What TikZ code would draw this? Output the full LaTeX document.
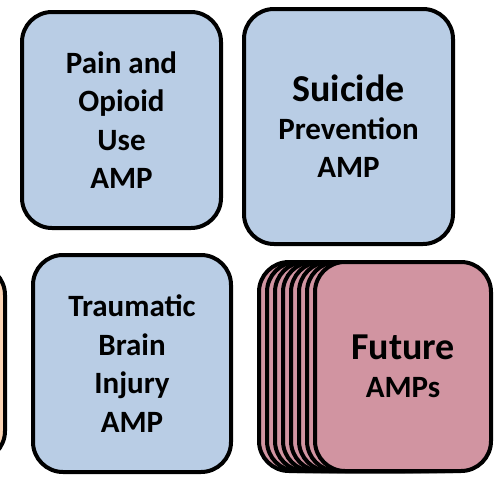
\documentclass[tikz,border=0pt]{standalone}
\usepackage{fontspec}
\setmainfont{Carlito}
\definecolor{ampblue}{HTML}{B9CDE5}
\definecolor{amppink}{HTML}{D194A1}
\definecolor{amporange}{HTML}{FCD5B5}
\begin{document}
\begin{tikzpicture}[x=1pt, y=-1pt, line width=4pt,
    card/.style={draw=black, rounded corners=30pt, inner sep=0pt, align=center,
                 font=\bfseries\fontsize{31}{38.5}\selectfont},
    amp/.style={card, fill=ampblue},
    future/.style={card, fill=amppink, minimum width=176pt, minimum height=209pt}]
                    \clip (0,0) rectangle (496,477);
                    % Current AMPs
                    \node[amp, minimum width=199pt, minimum height=216pt] (pain) at (121.5,120) {Pain and\\Opioid\\Use\\AMP};
                    \node[amp, minimum width=209pt, minimum height=235pt] (suicide) at (348.5,126.5)
                        {{\fontsize{38}{42}\selectfont Suicide}\\[-1pt]{\fontsize{31}{38}\selectfont Prevention}\\{\fontsize{31}{38}\selectfont AMP}};
                    \node[amp, minimum width=198pt, minimum height=217pt] (tbi) at (132,363.5) {Traumatic\\Brain\\Injury\\AMP};
                    % Cut-off box on the left edge
                    \node[card, fill=amporange, minimum width=200pt, minimum height=196pt] (other) at (-95,363) {};
                    % Stack of future AMPs
                    \foreach \i in {7,...,1}
                        \node[future] (back\i) at (403-8*\i,366.5) {};
                    \node[future] (future) at (403,366.5)
                        {{\fontsize{38}{42}\selectfont Future}\\{\fontsize{31}{40}\selectfont AMPs}};
                \end{tikzpicture}
\end{document}
